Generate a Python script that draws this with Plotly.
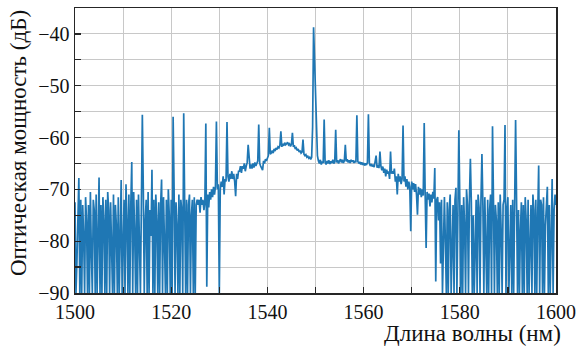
import plotly.graph_objects as go

# Wavelength grid: 1500..1600 nm, 0.2 nm step (sampling grid of the spectrum)
start_nm = 1500.0
step_nm = 0.2

# Optical power (dB), region by region
noise_left = [  # 1500.0 - 1526.8
    -72.5, -90, -84, -74, -67.8,
    -90, -72, -90, -73, -79,
    -90, -71.5, -76, -90, -73,
    -90, -70.5, -82, -90, -72,
    -74, -90, -71, -90, -78,
    -67.7, -90, -73, -90, -71.5,
    -76, -90, -72, -90, -70.5,
    -74, -90, -72.5, -81, -90,
    -71, -90, -73, -77, -90,
    -71.5, -90, -74, -68.2, -90,
    -80, -72, -90, -69, -76,
    -90, -71, -90, -73, -64.7,
    -90, -70.5, -78, -90, -72,
    -90, -71, -82, -90, -73,
    -55.6, -70, -90, -76, -72,
    -90, -70.5, -90, -74, -79,
    -66.2, -90, -72, -90, -71,
    -76, -90, -72.5, -90, -73,
    -68.1, -90, -71.5, -80, -90,
    -72, -90, -70, -75, -90,
    -72, -90, -56.0, -70, -90,
    -72.5, -77, -90, -71, -90,
    -72, -74, -90, -55.3, -70,
    -90, -72, -90, -73, -71,
    -90, -75, -72, -90, -71.5,
    -90, -73, -72, -73, -72,
    -74.5, -71.5, -73, -72, -74,
]
rise = [  # 1527.0 - 1533.8
    -72.5, -57.3, -88.8, -71, -73.5,
    -70.5, -72, -70, -71.5, -69.5,
    -71, -69.5, -56.9, -70, -69,
    -90, -70, -68.5, -69.5, -67.5,
    -71, -68, -68.5, -57.0, -67.5,
    -68.5, -67, -68, -66.5, -68,
    -67, -68.5, -71.3, -67, -68,
]
hump = [  # 1534.0 - 1549.2
    -66.5, -66.5, -65.5, -66.8, -65.5,
    -66, -65, -66.5, -65.5, -64.8,
    -61.4, -65, -66, -65.2, -66,
    -65, -65.8, -64.8, -65.5, -65,
    -64.5, -57.5, -65, -65.5, -65.8,
    -66.3, -64.5, -65, -64.2, -64.5,
    -64, -63.5, -58.1, -63.2, -63,
    -62.5, -63, -62.2, -62.6, -62,
    -62.3, -61.8, -62, -61.5, -58.8,
    -61.8, -61.2, -61.6, -61, -61.4,
    -61.2, -60.9, -61.4, -61.2, -61.7,
    -61.3, -59.1, -61.8, -61.5, -62.2,
    -62, -62.5, -62.2, -62.8, -62.5,
    -63, -62.8, -60.4, -63.2, -63.5,
    -63.3, -63.8, -63.6, -64, -63.8,
    -64.2, -63.8,
]
peak = [-58, -38.7, -46, -52, -60, -63.5]  # 1549.4 - 1550.4
floor_right = [  # 1550.6 - 1565.8
    -64.5, -65,
    -64.3, -65.2, -64.6, -64.9, -56.5,
    -64.8, -65.2, -64.5, -65, -64.4,
    -65.1, -64.6, -64.9, -64.3, -65,
    -64.7, -58.5, -64.8, -64.4, -65,
    -64.5, -64.2, -64.8, -64.3, -64.9,
    -64.5, -61.4, -64.6, -64.2, -64.8,
    -64.4, -64.9, -64.3, -64.7, -64.4,
    -64.9, -64.5, -64.8, -55.7, -64.6,
    -65, -64.7, -65.2, -64.8, -65.3,
    -64.9, -65.4, -65, -65.3, -64.8,
    -55.5, -65, -65.5, -65.1, -65.6,
    -65.2, -65.7, -64.9, -63.5, -65.8,
    -65.3, -65.9, -62.7, -65.5, -66.3,
    -65.6, -66.8, -66, -67.5, -66.2,
    -67, -66.5, -68, -62.7, -67,
]
fall = [  # 1566.0 - 1575.8
    -66.5, -67, -66, -68.5, -67.5,
    -71, -67, -68.5, -67.5, -69,
    -68, -57.7, -68.5, -67.5, -69.5,
    -68, -70, -68.5, -69.5, -78.1,
    -68.5, -70, -68.8, -70.5, -69,
    -71, -74.9, -69.5, -71, -69.8,
    -71.5, -70, -71.2, -57.2, -71,
    -81.3, -70.5, -72, -70.8, -73.3,
    -71, -72.5, -70.5, -71.8, -65.9,
    -87.8, -72, -71.5, -76, -72.5,
]
noise_right = [  # 1576.0 - 1600.0
    -84.3, -72, -90, -75, -71.5,
    -80, -90, -72.5, -90, -74,
    -71, -90, -78, -73, -90,
    -72, -69.7, -90, -75, -58.6,
    -72, -90, -73, -90, -71.5,
    -77, -90, -70, -73, -90,
    -72, -64.1, -72.5, -90, -75,
    -90, -82, -72, -90, -71,
    -73.5, -90, -72, -63.2, -73,
    -90, -71.5, -79, -90, -72,
    -90, -74, -71, -90, -57.8,
    -72, -90, -73, -76, -90,
    -72.5, -90, -71, -78, -90,
    -73, -72, -57.6, -90, -74,
    -71.5, -90, -80, -73, -90,
    -72, -90, -71, -56.6, -72,
    -90, -74, -90, -78, -72.5,
    -90, -73, -90, -71.5, -76,
    -90, -72, -90, -81, -73,
    -90, -71, -74, -90, -72,
    -90, -75, -65.4, -90, -72,
    -73, -90, -71.5, -90, -77,
    -72, -69.5, -90, -73, -90,
    -72, -68, -90, -74, -71,
    -73,
]

power_db = noise_left + rise + hump + peak + floor_right + fall + noise_right
wavelength = [round(start_nm + step_nm * i, 1) for i in range(len(power_db))]

x_title = "Длина волны (нм)"
y_title = "Оптическая мощность (дБ)"

FONT = "Liberation Serif"
GRID = "#c8c8c8"
AX = "#262626"

fig = go.Figure()
fig.add_trace(go.Scatter(
    x=wavelength, y=power_db, mode="lines",
    line=dict(color="#1f77b4", width=1.7),
    hoverinfo="skip",
))

fig.update_layout(
    width=579, height=347,
    margin=dict(l=75, r=23, t=8, b=54, autoexpand=False),
    plot_bgcolor="white", paper_bgcolor="white",
    showlegend=False,
    font=dict(family=FONT, size=20, color="#111111"),
)
fig.update_xaxes(
    range=[1500, 1600], dtick=20, tick0=1500, automargin=False,
    ticks="inside", ticklen=6, tickwidth=1.2, tickcolor=AX,
    showgrid=True, gridcolor=GRID, gridwidth=1,
    minor=dict(dtick=10, tick0=1500, ticks="inside", ticklen=6, tickcolor=AX,
               showgrid=True, gridcolor=GRID, gridwidth=1),
    showline=True, linecolor=AX, linewidth=1.5, mirror=True,
    zeroline=False, tickfont=dict(family=FONT, size=20),
)
fig.update_yaxes(
    range=[-90, -35], dtick=10, tick0=-90, automargin=False,
    ticks="inside", ticklen=6, tickwidth=1.2, tickcolor=AX,
    showgrid=True, gridcolor=GRID, gridwidth=1,
    minor=dict(dtick=5, tick0=-90, ticks="inside", ticklen=6, tickcolor=AX,
               showgrid=True, gridcolor=GRID, gridwidth=1),
    showline=True, linecolor=AX, linewidth=1.5, mirror=True,
    zeroline=False, tickfont=dict(family=FONT, size=20),
)

fig.add_annotation(text=x_title, xref="paper", yref="paper", x=1, y=0,
                   xanchor="right", yanchor="middle", xshift=7, yshift=-40,
                   showarrow=False, font=dict(family=FONT, size=23))
fig.add_annotation(text=y_title, xref="paper", yref="paper", x=0, y=1,
                   xanchor="center", yanchor="top", xshift=-57,
                   textangle=-90, showarrow=False, font=dict(family=FONT, size=23))

fig.write_html("out.html",
               config={"displayModeBar": False, "staticPlot": True},
               post_script="document.body.style.margin='0';document.body.style.padding='0';")
